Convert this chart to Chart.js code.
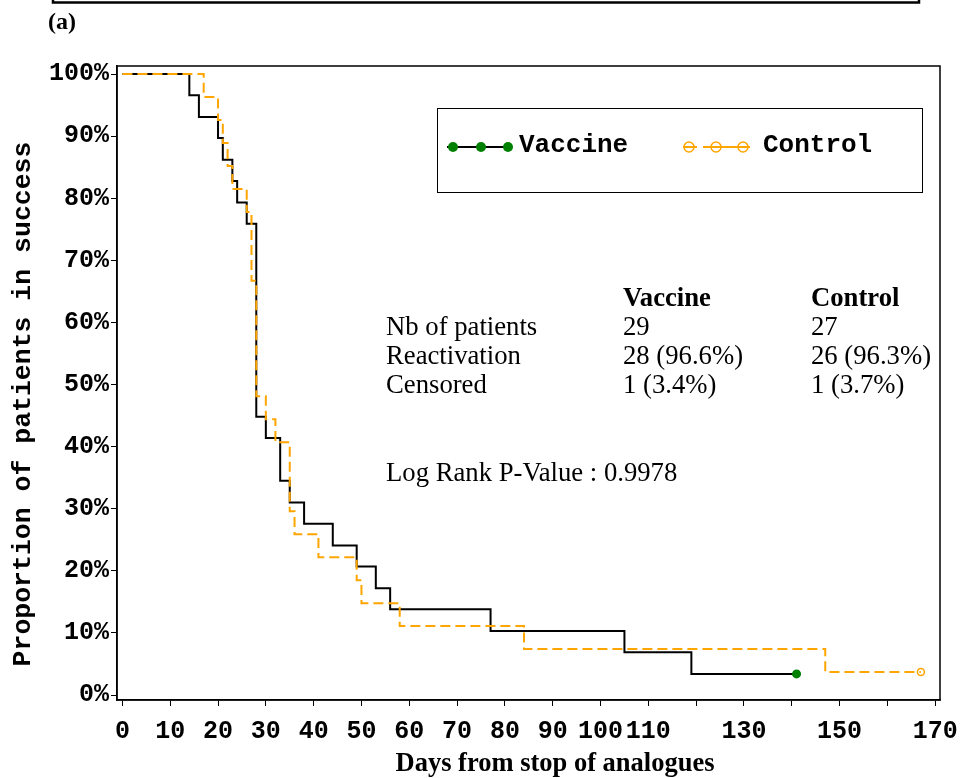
<!DOCTYPE html>
<html>
<head>
<meta charset="utf-8">
<script src="https://cdn.jsdelivr.net/npm/chart.js@4.4.1/dist/chart.umd.min.js"></script>
<style>
  html, body { margin: 0; padding: 0; background: #fff; }
  #wrap { width: 965px; height: 778px; }
</style>
</head>
<body>
<div id="wrap"><canvas id="km" width="965" height="778"></canvas></div>
<script>
// Kaplan-Meier steps (day, % still in success)
const vaccineDays = [0, 14, 16, 20, 21, 23, 24, 26, 28, 30, 33, 35, 38, 44, 49, 53, 56, 77, 105, 119, 141];
const vaccineSurv = [100, 96.6, 93.1, 89.7, 86.2, 82.8, 79.3, 75.9, 44.8, 41.4, 34.5, 31.0, 27.6, 24.1, 20.7, 17.2, 13.8, 10.3, 6.9, 3.4, 3.4];
const controlDays = [0, 17, 20, 21, 22, 23, 26, 27, 28, 30, 32, 35, 36, 41, 49, 50, 58, 84, 147, 167];
const controlSurv = [100, 96.3, 92.6, 88.9, 85.2, 81.5, 77.8, 66.7, 48.1, 44.4, 40.7, 29.6, 25.9, 22.2, 18.5, 14.8, 11.1, 7.4, 3.7, 3.7];

// x tick labels that the original leaves blank
const hiddenXLabels = [120, 140, 160];

const tableHead = ['', 'Vaccine', 'Control'];
const tableRows = [
  ['Nb of patients', '29', '27'],
  ['Reactivation', '28 (96.6%)', '26 (96.3%)'],
  ['Censored', '1 (3.4%)', '1 (3.7%)']
];
const pValueText = 'Log Rank P-Value : 0.9978';

const ORANGE = '#FFA500';
const GREEN = '#008000';
const MONO = '"Liberation Mono", "Courier New", monospace';
const SERIF = '"Liberation Serif", "Times New Roman", serif';

function toPoints(days, surv) {
  return days.map((d, i) => ({ x: d, y: surv[i] }));
}

const lastOnly = r => c => (c.dataIndex === c.dataset.data.length - 1 ? r : 0);

const decor = {
  id: 'decor',
  afterDraw(chart) {
    const ctx = chart.ctx;
    const a = chart.chartArea;
    ctx.save();

    // plot frame
    ctx.strokeStyle = '#000';
    ctx.lineWidth = 1.5;
    ctx.strokeRect(a.left, a.top, a.right - a.left, a.bottom - a.top);

    // bit of the previous panel's box at the top
    ctx.lineWidth = 2.5;
    ctx.strokeRect(53, -10, 866, 12.5);

    ctx.fillStyle = '#000';
    ctx.font = 'bold 24px ' + SERIF;
    ctx.textAlign = 'left';
    ctx.textBaseline = 'alphabetic';
    ctx.fillText('(a)', 48, 29);

    // axis titles
    ctx.font = 'bold 26.5px ' + SERIF;
    ctx.textAlign = 'center';
    ctx.fillText('Days from stop of analogues', 555, 771);

    ctx.save();
    ctx.translate(23, 404);
    ctx.rotate(-Math.PI / 2);
    ctx.font = 'bold 26.5px ' + MONO;
    ctx.textBaseline = 'middle';
    ctx.fillText('Proportion of patients in success', 0, 0);
    ctx.restore();

    // legend box
    ctx.lineWidth = 1;
    ctx.strokeStyle = '#000';
    ctx.strokeRect(437.5, 108.5, 485, 84);

    const ly = 147;
    ctx.lineWidth = 2;
    ctx.beginPath();
    ctx.moveTo(447, ly);
    ctx.lineTo(509, ly);
    ctx.stroke();
    ctx.fillStyle = GREEN;
    [453, 481, 508].forEach(x => {
      ctx.beginPath();
      ctx.arc(x, ly, 5, 0, Math.PI * 2);
      ctx.fill();
    });

    ctx.strokeStyle = ORANGE;
    ctx.lineWidth = 2;
    ctx.beginPath();
    ctx.moveTo(683, ly); ctx.lineTo(697, ly);
    ctx.moveTo(703, ly); ctx.lineTo(750, ly);
    ctx.stroke();
    ctx.lineWidth = 1.5;
    [689, 716, 743].forEach(x => {
      ctx.beginPath();
      ctx.arc(x, ly, 5, 0, Math.PI * 2);
      ctx.stroke();
    });

    ctx.fillStyle = '#000';
    ctx.font = 'bold 26px ' + MONO;
    ctx.textAlign = 'left';
    ctx.textBaseline = 'middle';
    ctx.fillText('Vaccine', 519, 145);
    ctx.fillText('Control', 763, 145);

    // summary table
    const cols = [386, 623, 811];
    ctx.textBaseline = 'alphabetic';
    ctx.font = 'bold 26.7px ' + SERIF;
    tableHead.forEach((t, i) => ctx.fillText(t, cols[i], 306));
    ctx.font = '26.7px ' + SERIF;
    tableRows.forEach((row, r) => {
      row.forEach((t, i) => ctx.fillText(t, cols[i], 335 + r * 29));
    });
    ctx.fillText(pValueText, 386, 481);

    ctx.restore();
  }
};

new Chart(document.getElementById('km'), {
  type: 'line',
  data: {
    datasets: [
      {
        label: 'Vaccine',
        data: toPoints(vaccineDays, vaccineSurv),
        stepped: true,
        borderColor: '#000',
        borderWidth: 2,
        pointRadius: lastOnly(3.5),
        pointBackgroundColor: GREEN,
        pointBorderColor: GREEN,
        order: 1
      },
      {
        label: 'Control',
        data: toPoints(controlDays, controlSurv),
        stepped: true,
        borderColor: ORANGE,
        borderWidth: 2,
        borderDash: [10, 5],
        pointRadius: lastOnly(3.5),
        pointBackgroundColor: 'rgba(0,0,0,0)',
        pointBorderColor: ORANGE,
        pointBorderWidth: 1.5,
        order: 0
      }
    ]
  },
  options: {
    responsive: false,
    animation: false,
    devicePixelRatio: 1,
    layout: { autoPadding: false, padding: { top: 66, right: 25, left: 0, bottom: 0 } },
    plugins: { legend: { display: false }, tooltip: { enabled: false } },
    scales: {
      x: {
        type: 'linear',
        min: -1.13,
        max: 171,
        afterFit: s => { s.height = 78; s.paddingLeft = 0; s.paddingRight = 0; },
        border: { display: true, color: '#000', width: 1.5 },
        grid: { drawOnChartArea: false, drawTicks: true, tickLength: 6, color: '#000', lineWidth: 1 },
        ticks: {
          stepSize: 10,
          includeBounds: false,
          autoSkip: false,
          maxRotation: 0,
          padding: 11,
          color: '#000',
          font: { family: MONO, size: 25, weight: 'bold' },
          callback: v => (hiddenXLabels.includes(v) ? '' : String(v))
        }
      },
      y: {
        type: 'linear',
        min: -0.8,
        max: 101.3,
        afterFit: s => { s.width = 117; s.paddingTop = 0; s.paddingBottom = 0; },
        border: { display: true, color: '#000', width: 1.5 },
        grid: { drawOnChartArea: false, drawTicks: true, tickLength: 6, color: '#000', lineWidth: 1 },
        ticks: {
          stepSize: 10,
          includeBounds: false,
          padding: 2,
          color: '#000',
          font: { family: MONO, size: 25, weight: 'bold' },
          callback: v => v + '%'
        }
      }
    }
  },
  plugins: [decor]
});
</script>
</body>
</html>
